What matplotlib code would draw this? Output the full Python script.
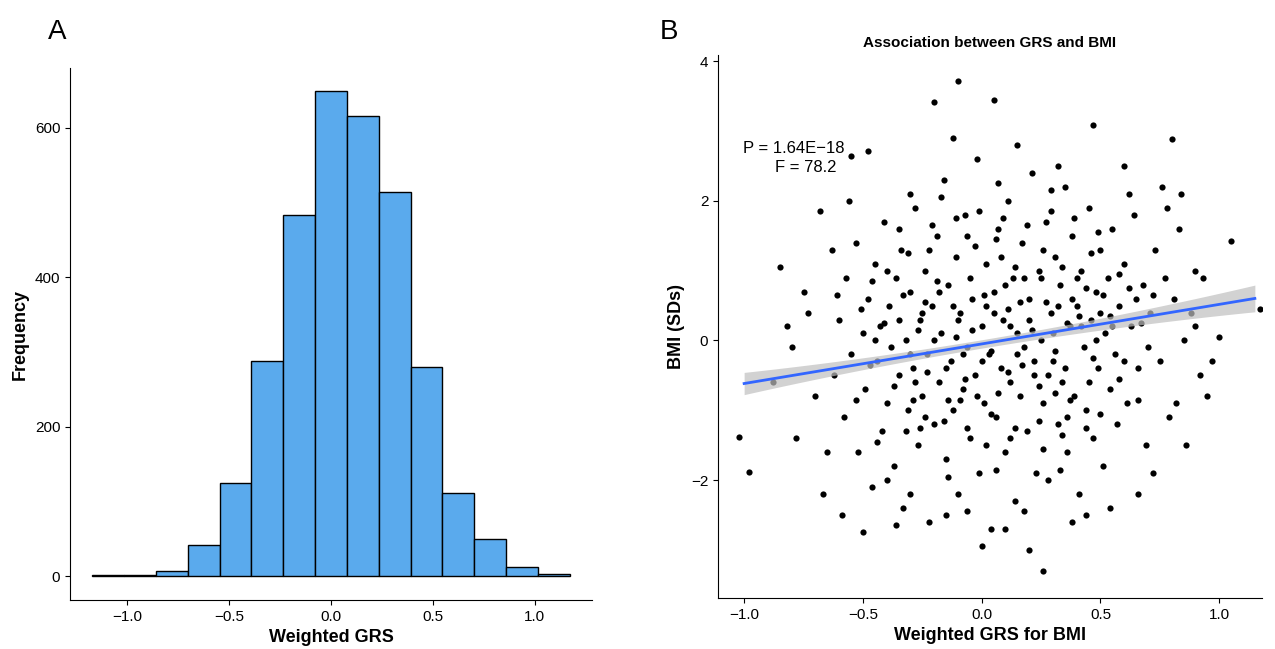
import matplotlib
matplotlib.use("Agg")
import matplotlib.pyplot as plt
import numpy as np

plt.rcParams['font.family'] = ['Liberation Sans', 'DejaVu Sans']

bin_edges = [-1.17, -1.014, -0.858, -0.702, -0.546, -0.39, -0.234, -0.078,
             0.078, 0.234, 0.39, 0.546, 0.702, 0.858, 1.014, 1.17]
counts = [1, 2, 7, 41, 124, 288, 483, 649, 616, 514, 280, 111, 50, 12, 3]

pts = """-1.02,-1.38;-0.98,-1.88;-0.85,1.05;-0.68,1.85;-0.2,3.42;0.05,3.45;-0.1,3.72;0.47,3.08;0.8,2.88;1.05,1.42;1.17,0.45;0.26,-3.3;0.0,-2.95;0.38,-2.6;0.2,-3.0;-0.5,-2.75;-0.48,2.72;-0.55,2.65;0.6,2.5;-0.3,2.1;0.95,-0.8;1.0,0.05;-0.67,-2.2;-0.8,-0.1;-0.73,0.4;
-0.62,-0.5;-0.6,0.3;-0.58,-1.1;-0.57,0.9;-0.55,-0.2;-0.53,1.4;-0.52,-1.6;-0.5,0.1;-0.49,-0.7;-0.48,0.6;-0.46,-2.1;-0.45,1.1;-0.44,-0.3;-0.43,0.2;-0.42,-1.3;-0.41,1.7;-0.4,-0.9;-0.39,0.5;-0.38,-0.1;-0.37,-1.8;-0.36,0.9;-0.35,-0.5;-0.34,1.3;-0.33,-2.4;-0.32,0.0;-0.31,-1.0;-0.3,0.7;-0.29,-0.4;-0.28,1.9;-0.27,-1.5;-0.26,0.3;-0.25,-0.8;-0.24,1.0;-0.23,-0.2;-0.22,-2.6;-0.21,0.5;-0.2,-1.2;-0.19,1.5;-0.18,-0.6;-0.17,0.1;-0.16,2.3;-0.15,-1.7;-0.14,0.8;-0.13,-0.3;-0.12,-1.0;-0.11,1.2;-0.1,-2.2;-0.09,0.4;-0.08,-0.7;-0.07,1.8;-0.06,-0.1;-0.05,-1.4;-0.04,0.6;-0.03,-0.5;-0.02,2.6;-0.01,-1.9;0.0,0.2;0.01,-0.9;0.02,1.1;0.03,-0.2;0.04,-2.7;0.05,0.7;0.06,-1.1;0.07,1.6;0.08,-0.4;0.09,0.3;0.1,-1.6;0.11,2.0;0.12,-0.6;0.13,0.9;0.14,-2.3;0.15,0.1;0.16,-0.8;0.17,1.4;0.18,-0.1;0.19,-1.3;0.2,0.6;0.21,2.4;0.22,-0.5;0.23,-1.9;0.24,1.0;0.25,0.0;0.26,-0.9;0.27,1.7;0.28,-2.0;0.29,0.4;0.3,-0.3;0.31,1.2;0.32,-1.2;0.33,0.8;0.34,-0.6;0.35,2.2;0.36,-1.6;0.37,0.2;0.38,1.5;0.39,-0.8;0.4,0.5;0.41,-2.2;0.42,1.0;0.43,-0.1;0.44,-1.0;0.45,1.9;0.46,0.3;0.47,-1.4;0.48,0.7;0.49,-0.4;0.5,1.3;0.51,-1.8;0.52,0.1;0.53,0.9;0.54,-0.7;0.55,1.6;0.56,-0.2;0.57,-1.2;0.58,0.5;0.6,1.1;0.61,-0.9;0.63,0.2;0.64,1.8;0.66,-0.4;0.68,0.8;0.69,-1.5;0.71,0.4;0.73,1.3;0.75,-0.3;0.77,0.9;0.79,-1.1;0.81,0.6;0.83,1.6;0.85,0.0;0.88,0.4;0.9,1.0;0.92,-0.5;
-0.3,-0.2;-0.25,0.4;-0.2,0.0;-0.15,-0.4;-0.1,0.3;-0.05,0.9;0.0,-0.3;0.05,0.4;0.1,0.8;0.15,-0.2;0.2,0.3;0.25,0.9;0.3,0.1;0.35,-0.4;0.4,0.9;0.45,-0.6;0.5,0.4;-0.35,0.3;-0.28,-0.6;-0.22,1.3;-0.12,0.5;-0.02,-0.8;0.08,1.2;0.18,0.9;0.28,-0.5;0.38,0.6;0.48,0.0;0.12,0.2;0.02,0.5;-0.08,-0.2;-0.18,0.7;0.22,-0.3;0.32,0.5;0.42,0.2;-0.32,-1.3;-0.4,1.0;-0.45,0.0;0.55,0.2;0.6,-0.3;0.65,0.6;0.7,-0.1;
-0.7,-0.8;-0.75,0.7;-0.78,-1.4;-0.82,0.2;-0.88,-0.6;-0.65,-1.6;-0.63,1.3;-0.59,-2.5;-0.56,2.0;0.72,-1.9;0.78,1.9;0.82,-0.9;0.86,-1.5;0.9,0.2;0.93,0.9;0.97,-0.3;0.84,2.1;0.76,2.2;0.62,2.1;0.66,-2.2;0.54,-2.4;0.44,-2.5;0.1,-2.7;-0.15,-2.5;-0.3,-2.2;-0.4,-2.0;-0.12,2.9;0.15,2.8;0.32,2.5;-0.35,1.6;0.02,-1.5;-0.06,1.5;0.26,1.3;0.36,-1.1;-0.24,-1.1;0.12,-1.4;
-0.27,0.15;-0.23,-0.45;-0.19,0.85;-0.14,-0.85;-0.11,0.05;-0.07,-0.55;-0.03,1.35;0.01,0.65;0.04,-0.15;0.07,-0.75;0.11,0.45;0.14,1.05;0.17,-0.35;0.21,0.15;0.24,-0.65;0.27,0.55;0.31,-0.15;0.34,1.05;0.37,-0.85;0.41,0.35;0.44,0.75;0.47,-0.25;0.51,0.65;-0.33,0.65;-0.37,-0.65;-0.41,0.25;-0.47,-0.35;-0.51,0.45;0.54,0.35;0.58,-0.55;0.62,0.75;0.67,0.25;-0.26,-1.25;-0.16,-1.15;-0.06,-1.25;0.04,-1.05;0.14,-1.25;0.24,-1.15;0.34,-1.35;0.44,-1.25;-0.21,1.65;-0.11,1.75;-0.01,1.85;0.09,1.75;0.19,1.65;0.29,1.85;0.39,1.75;-0.31,1.25;0.49,1.55;-0.29,-0.85;-0.09,-0.85;0.11,-0.45;0.31,-0.75;0.16,0.55;-0.04,0.15;-0.24,0.55;0.36,0.25;0.06,1.45;0.26,-1.55;-0.14,-1.95;0.06,-1.85;0.33,-1.85;-0.44,-1.45;0.46,1.25;-0.46,0.85;0.58,0.95;-0.53,-0.85;0.66,-0.85;-0.61,0.65;0.72,0.65;-0.17,2.05;0.07,2.25;0.29,2.15;-0.36,-2.65;-0.06,-2.45;0.18,-2.45;0.5,-1.05"""
pairs = [p.split(",") for p in pts.replace("\n", "").split(";") if p.strip()]
grs = np.array([float(a) for a, b in pairs])
bmi = np.array([float(b) for a, b in pairs])

fig = plt.figure(figsize=(12.75, 6.49), dpi=100)
ax1 = fig.add_axes([70/1275, 49/649, 522/1275, 532/649])
ax2 = fig.add_axes([718/1275, 51/649, 544/1275, 543/649])

centers = [(bin_edges[i] + bin_edges[i+1]) / 2 for i in range(len(counts))]
widths = [bin_edges[i+1] - bin_edges[i] for i in range(len(counts))]
ax1.bar(centers, counts, width=widths, color='#5aaaed', edgecolor='black', linewidth=1)
ax1.set_xlim(-1.28, 1.28)
ax1.set_ylim(-32, 680)
ax1.set_xticks([-1.0, -0.5, 0.0, 0.5, 1.0])
ax1.set_xticklabels(['−1.0', '−0.5', '0.0', '0.5', '1.0'])
ax1.set_yticks([0, 200, 400, 600])
ax1.set_xlabel('Weighted GRS', fontsize=13, fontweight='bold')
ax1.set_ylabel('Frequency', fontsize=13, fontweight='bold')

ax2.scatter(grs, bmi, s=20, color='black', linewidths=0, zorder=2)
slope, inter = 0.567, -0.05
xs = np.linspace(-1.0, 1.15, 50)
yl = inter + slope * xs
band = 0.06 + 0.12 * (xs / 1.1) ** 2
ax2.fill_between(xs, yl - band, yl + band, color='#bfbfbf', alpha=0.7, lw=0, zorder=3)
ax2.plot(xs, yl, color='#3366ff', lw=2, zorder=4)
ax2.set_xlim(-1.11, 1.18)
ax2.set_ylim(-3.69, 4.09)
ax2.set_xticks([-1.0, -0.5, 0.0, 0.5, 1.0])
ax2.set_xticklabels(['−1.0', '−0.5', '0.0', '0.5', '1.0'])
ax2.set_yticks([-2, 0, 2, 4])
ax2.set_yticklabels(['−2', '0', '2', '4'])
ax2.set_xlabel('Weighted GRS for BMI', fontsize=13, fontweight='bold')
ax2.set_ylabel('BMI (SDs)', fontsize=13, fontweight='bold')
ax2.set_title('Association between GRS and BMI', fontsize=11, fontweight='bold')
ax2.text(-0.79, 2.75, 'P = 1.64E−18', ha='center', va='center', fontsize=12, zorder=5)
ax2.text(-0.74, 2.48, 'F = 78.2', ha='center', va='center', fontsize=12, zorder=5)

for ax in (ax1, ax2):
    for s in ('top', 'right'):
        ax.spines[s].set_visible(False)
    ax.tick_params(labelsize=11)

fig.text(48/1275, 1 - 32/649, 'A', fontsize=20, va='center')
fig.text(660/1275, 1 - 32/649, 'B', fontsize=20, va='center')
fig.savefig('out.png', dpi=100)
